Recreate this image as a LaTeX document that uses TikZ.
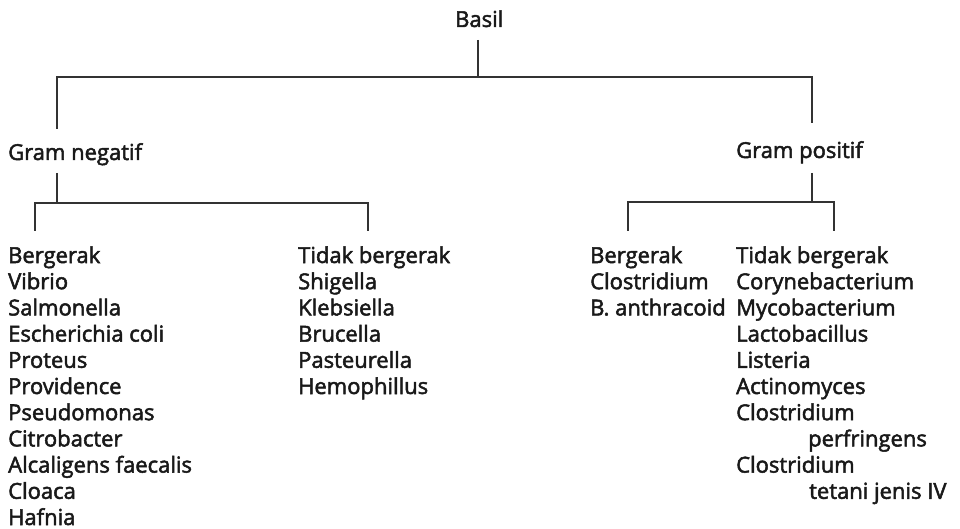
\documentclass[tikz,border=0pt]{standalone}
\usepackage{fontspec}
\setmainfont{Open Sans}
\usepackage{tikz}
\newcommand{\heavytext}[1]{\special{pdf:literal direct 2 Tr 0.5 w}#1\special{pdf:literal direct 0 Tr}}
\tikzset{lbl/.style={anchor=base west, inner sep=0, font=\fontsize{22}{26}\selectfont, text=black!90}}
\tikzset{wire/.style={draw=black!80, line width=1.8pt}}

\begin{document}
\begin{tikzpicture}[x=1pt, y=1pt]
  \useasboundingbox (0,0) rectangle (960,-529);

  \node[lbl] at (455,-27) (basil) {\heavytext{Basil}};
  \node[lbl] at (8,-160) (neg) {\heavytext{Gram negatif}};
  \node[lbl] at (736,-158) (pos) {\heavytext{Gram positif}};

  % joints of the tree
  \coordinate (basil foot) at (478,-40);
  \coordinate (root) at (478,-77);
  \coordinate (neg top) at (57,-129);
  \coordinate (pos top) at (812,-123);
  \coordinate (neg foot) at (57,-173);
  \coordinate (neg split) at (57,-203);
  \coordinate (neg a) at (35,-231);
  \coordinate (neg b) at (368,-231);
  \coordinate (pos foot) at (812,-173);
  \coordinate (pos split) at (812,-202);
  \coordinate (pos a) at (628,-231);
  \coordinate (pos b) at (834,-231);

  % lists
  \foreach \name [count=\i from 0] in {Bergerak, Vibrio, Salmonella, Escherichia coli, Proteus,
      Providence, Pseudomonas, Citrobacter, Alcaligens faecalis, Cloaca, Hafnia}
    \node[lbl] at (8,-263-26.2*\i) (nm-\i) {\heavytext{\name}};
  \foreach \name [count=\i from 0] in {Tidak bergerak, Shigella, Klebsiella, Brucella,
      Pasteurella, Hemophillus}
    \node[lbl] at (298,-263-26.2*\i) (ns-\i) {\heavytext{\name}};
  \foreach \name [count=\i from 0] in {Bergerak, Clostridium, B. anthracoid}
    \node[lbl] at (590,-263-26.2*\i) (pm-\i) {\heavytext{\name}};
  \foreach \name [count=\i from 0] in {Tidak bergerak, Corynebacterium, Mycobacterium,
      Lactobacillus, Listeria, Actinomyces, Clostridium, \hspace*{72pt}perfringens,
      Clostridium, \hspace*{73pt}tetani jenis IV}
    \node[lbl] at (736,-263-26.2*\i) (ps-\i) {\heavytext{\name}};

  \draw[wire] (basil foot) -- (root);
  \draw[wire] (neg top) |- (root) -| (pos top);
  \draw[wire] (neg foot) -- (neg split);
  \draw[wire] (neg a) |- (neg split) -| (neg b);
  \draw[wire] (pos foot) -- (pos split);
  \draw[wire] (pos a) |- (pos split) -| (pos b);
\end{tikzpicture}
\end{document}
